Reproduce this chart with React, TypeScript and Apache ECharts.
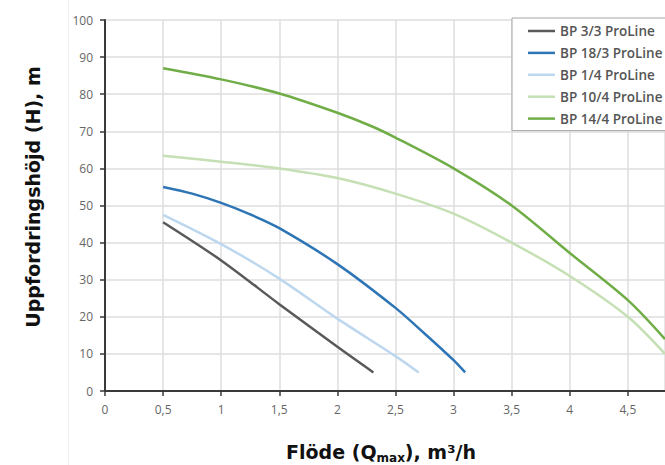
import React, { useEffect, useRef } from "react";
import * as echarts from "echarts";

const seriesNames = ["BP 3/3 ProLine", "BP 18/3 ProLine", "BP 1/4 ProLine", "BP 10/4 ProLine", "BP 14/4 ProLine"];
const seriesColors = ["#595959", "#2e75b6", "#bdd7ee", "#c5e0b4", "#70ad47"];

const bp33: number[][] = [[0.5, 45.5], [1, 35.2], [1.5, 23.4], [2, 11.9], [2.31, 5]];
const bp183: number[][] = [[0.5, 55], [0.75, 53.2], [1, 50.7], [1.25, 47.6], [1.5, 43.9], [2, 34.2], [2.5, 22.4], [2.75, 15.5], [3, 8.3], [3.1, 5]];
const bp14: number[][] = [[0.5, 47.5], [1, 39.6], [1.5, 30.3], [2, 19.5], [2.5, 9.4], [2.7, 5]];
const bp104: number[][] = [[0.5, 63.4], [1, 61.8], [1.5, 60], [2, 57.4], [2.5, 53.2], [3, 47.8], [3.5, 40], [4, 31], [4.5, 20], [4.82, 10]];
const bp144: number[][] = [[0.5, 87], [1, 84], [1.5, 80.2], [2, 75], [2.3, 71.3], [2.5, 68.3], [3, 60], [3.5, 50], [4, 37.2], [4.5, 24.5], [4.82, 14]];
const seriesData = [bp33, bp183, bp14, bp104, bp144];

const xMin = 0;
const xMax = 4.82;
const xInterval = 0.5;
const yMin = 0;
const yMax = 100;
const yInterval = 10;

const yTitle = "Uppfordringshöjd (H), m";
const xTitle = "Flöde (Q{sub|max}), m³/h";

export default function App() {
  const ref = useRef<HTMLDivElement>(null);
  useEffect(() => {
    if (!ref.current) return;
    const chart = echarts.init(ref.current, undefined, { renderer: "svg" });
    const labelFont = { fontFamily: "Open Sans", fontSize: 12, color: "#666666" };
    chart.setOption({
      animation: false,
      backgroundColor: "#ffffff",
      grid: { left: 105, right: 0, top: 20, bottom: 74, containLabel: false },
      xAxis: {
        type: "value",
        min: xMin,
        max: xMax,
        interval: xInterval,
        axisLine: { show: true, onZero: false, lineStyle: { color: "#3a3a3a", width: 2 } },
        axisTick: { show: true, length: 5, lineStyle: { color: "#3a3a3a", width: 1.5 } },
        axisLabel: {
          ...labelFont,
          margin: 12,
          showMaxLabel: false,
          formatter: (v: number) => String(v).replace(".", ","),
        },
        splitLine: { show: true, lineStyle: { color: "#dedede", width: 1.5 } },
      },
      yAxis: {
        type: "value",
        min: yMin,
        max: yMax,
        interval: yInterval,
        axisLine: { show: true, lineStyle: { color: "#3a3a3a", width: 2 } },
        axisTick: { show: true, length: 5, lineStyle: { color: "#3a3a3a", width: 1.5 } },
        axisLabel: { ...labelFont, margin: 12 },
        splitLine: { show: true, lineStyle: { color: "#dedede", width: 1.5 } },
      },
      legend: {
        show: true,
        orient: "vertical",
        left: 512,
        top: 18,
        padding: [6, 20, 5, 16],
        itemGap: 7.9,
        itemWidth: 27,
        itemHeight: 2.5,
        icon: "rect",
        backgroundColor: "#ffffff",
        borderColor: "#a6a6a6",
        borderWidth: 1,
        textStyle: { fontFamily: "Open Sans", fontWeight: 600, fontSize: 13.5, lineHeight: 13, color: "#555555" },
        data: seriesNames,
      },
      series: seriesNames.map((name, i) => ({
        name,
        type: "line",
        data: seriesData[i],
        showSymbol: false,
        smooth: 0.3,
        color: seriesColors[i],
        itemStyle: { color: seriesColors[i] },
        lineStyle: { color: seriesColors[i], width: 2.5 },
      })),
      graphic: [
        {
          type: "line",
          shape: { x1: 68.5, y1: 0, x2: 68.5, y2: 465 },
          style: { stroke: "#f0f0f0", lineWidth: 1 },
          silent: true,
        },
        {
          type: "text",
          x: 33,
          y: 197,
          rotation: Math.PI / 2,
          style: {
            text: yTitle,
            fontFamily: "DejaVu Sans",
            fontWeight: "bold",
            fontSize: 19,
            fill: "#111111",
            align: "center",
            verticalAlign: "middle",
          },
        },
        {
          type: "text",
          x: 381,
          y: 452,
          style: {
            text: xTitle,
            fontFamily: "DejaVu Sans",
            fontWeight: "bold",
            fontSize: 19,
            fill: "#111111",
            align: "center",
            verticalAlign: "middle",
            rich: {
              sub: {
                fontFamily: "DejaVu Sans",
                fontWeight: "bold",
                fontSize: 12,
                fill: "#111111",
                padding: [11, 0, 0, 0],
              },
            },
          },
        },
      ],
    });
    return () => chart.dispose();
  }, []);
  return (
    <div
      ref={ref}
      style={{ position: "fixed", left: 0, top: 0, width: 665, height: 465, background: "#fff" }}
    />
  );
}
